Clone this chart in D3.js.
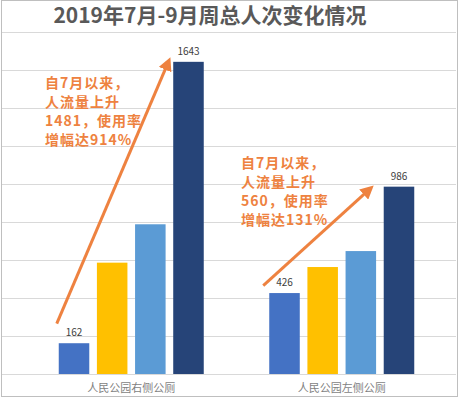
<!DOCTYPE html>
<html>
<head>
<meta charset="utf-8">
<script src="https://cdn.jsdelivr.net/npm/d3@7"></script>
<style>
  body { margin: 0; background: #fff; }
  text { font-family: "Noto Sans CJK SC", "Microsoft YaHei", sans-serif; }
</style>
</head>
<body>
<div id="chart"></div>
<script>
// categories + the 4 periods (Jul -> Sep)
const categories = ['人民公园右侧公厕', '人民公园左侧公厕'];
const seriesKeys = ['p1', 'p2', 'p3', 'p4'];
const p1 = [162, 426];
const p2 = [586, 563];
const p3 = [788, 647];
const p4 = [1643, 986];
const yTicks = [0, 200, 400, 600, 800, 1000, 1200, 1400, 1600, 1800];
const noteLines = [
  ['自7月以来，', '人流量上升', '1481，使用率', '增幅达914%'],
  ['自7月以来，', '人流量上升', '560，使用率', '增幅达131%']
];
// arrow start/end as values on the chart
const arrowFrom = [265, 465];
const arrowTo = [1660, 995];

const title = '2019年7月-9月周总人次变化情况';
const colors = ['#4472C4', '#FFC000', '#5B9BD5', '#264478'];
const orange = '#EE8240';

const width = 460, height = 399;
const margin = { top: 32, bottom: 25, left: 26, right: 13 };

const svg = d3.select('#chart').append('svg')
  .attr('width', width)
  .attr('height', height);

// outer frame
svg.append('rect')
  .attr('x', 1.5).attr('y', 0.5)
  .attr('width', 456).attr('height', 396)
  .attr('fill', '#fff')
  .attr('stroke', '#BFBFBF');

const yScale = d3.scaleLinear()
  .domain([0, 1800])
  .range([374, margin.top]);

const x0 = d3.scaleBand()
  .domain(categories)
  .range([margin.left, width - margin.right]);

const x1 = d3.scaleBand()
  .domain(seriesKeys)
  .range([-72.5, 72.5])
  .paddingInner(0.2);

// gridlines
svg.append('g')
  .selectAll('line')
  .data(yTicks)
  .join('line')
    .attr('x1', 2).attr('x2', 456)
    .attr('y1', d => Math.round(yScale(d)) + 0.5)
    .attr('y2', d => Math.round(yScale(d)) + 0.5)
    .attr('stroke', '#D9D9D9');

svg.append('text')
  .attr('x', 210).attr('y', 23)
  .attr('text-anchor', 'middle')
  .attr('font-size', 21).attr('font-weight', 'bold')
  .attr('fill', '#595959')
  .text(title);

const rows = categories.map((c, i) => ({
  cat: c,
  vals: [p1[i], p2[i], p3[i], p4[i]]
}));

const center = c => x0(c) + x0.bandwidth() / 2;

const groups = svg.append('g')
  .selectAll('g')
  .data(rows)
  .join('g')
    .attr('transform', d => `translate(${center(d.cat)},0)`);

groups.selectAll('rect')
  .data(d => d.vals.map((v, k) => ({ key: seriesKeys[k], v, k })))
  .join('rect')
    .attr('x', d => x1(d.key))
    .attr('y', d => yScale(d.v))
    .attr('width', x1.bandwidth())
    .attr('height', d => yScale(0) - yScale(d.v))
    .attr('fill', d => colors[d.k]);

// value labels only on first and last period
groups.selectAll('text.val')
  .data(d => d.vals.map((v, k) => ({ key: seriesKeys[k], v, k })).filter(d => d.k === 0 || d.k === 3))
  .join('text')
    .attr('class', 'val')
    .attr('x', d => x1(d.key) + x1.bandwidth() / 2)
    .attr('y', d => yScale(d.v) - 7)
    .attr('text-anchor', 'middle')
    .attr('font-size', 10)
    .attr('fill', '#404040')
    .text(d => d.v);

// category labels
svg.append('g')
  .selectAll('text')
  .data(categories)
  .join('text')
    .attr('x', d => center(d))
    .attr('y', 392)
    .attr('text-anchor', 'middle')
    .attr('font-size', 11)
    .attr('fill', '#7F7F7F')
    .text(d => d);

// arrows
svg.append('defs').append('marker')
  .attr('id', 'head')
  .attr('viewBox', '0 0 10 10')
  .attr('refX', 4).attr('refY', 5)
  .attr('markerWidth', 4.5).attr('markerHeight', 4.5)
  .attr('orient', 'auto')
  .append('path')
    .attr('d', 'M0,0L10,5L0,10z')
    .attr('fill', orange);

const arrowDx = [[-2, -2], [-6, -12]];
svg.append('g')
  .selectAll('line')
  .data(categories)
  .join('line')
    .attr('x1', (c, i) => center(c) + x1('p1') + arrowDx[i][0])
    .attr('y1', (c, i) => yScale(arrowFrom[i]))
    .attr('x2', (c, i) => center(c) + x1('p4') + arrowDx[i][1] - 4)
    .attr('y2', (c, i) => yScale(arrowTo[i]) + 6)
    .attr('stroke', orange)
    .attr('stroke-width', 3)
    .attr('marker-end', 'url(#head)');

// annotation text
const noteX = [45, 241];
const noteY = [88, 168];
categories.forEach((c, i) => {
  svg.append('text')
    .attr('font-size', 14)
    .attr('font-weight', 'bold')
    .attr('fill', orange)
    .attr('letter-spacing', 1)
    .selectAll('tspan')
    .data(noteLines[i])
    .join('tspan')
      .attr('x', noteX[i])
      .attr('y', (d, j) => noteY[i] + j * 19)
      .text(d => d);
});
</script>
</body>
</html>
